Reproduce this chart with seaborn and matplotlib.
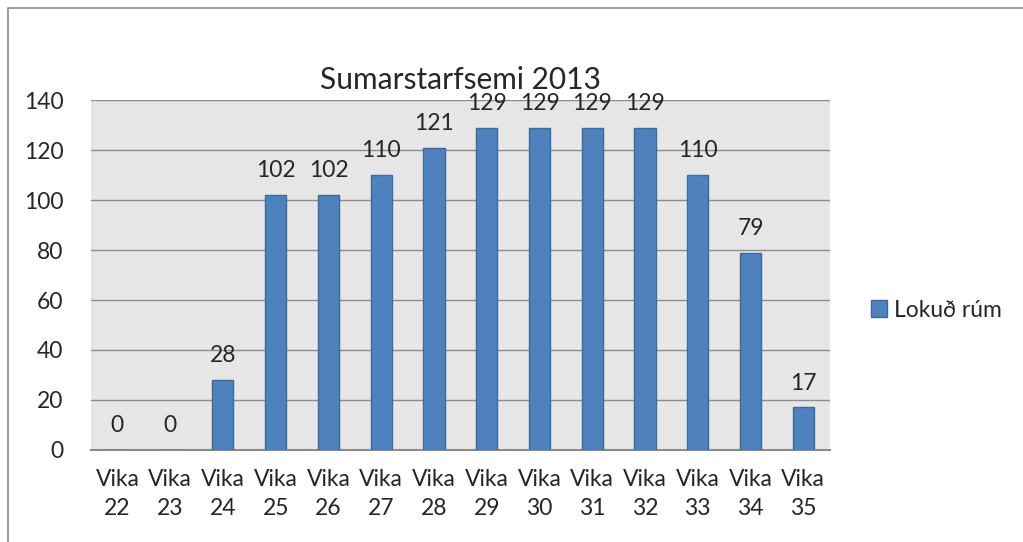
import matplotlib
matplotlib.use("Agg")
import pandas as pd
from matplotlib import pyplot as plt
from matplotlib.patches import Rectangle
import seaborn as sns

# Chart data
weeks = ["Vika\n22", "Vika\n23", "Vika\n24", "Vika\n25", "Vika\n26", "Vika\n27", "Vika\n28",
         "Vika\n29", "Vika\n30", "Vika\n31", "Vika\n32", "Vika\n33", "Vika\n34", "Vika\n35"]
closed_beds = [0, 0, 28, 102, 102, 110, 121, 129, 129, 129, 129, 110, 79, 17]
series_name = "Lokuð rúm"
chart_title = "Sumarstarfsemi 2013"

df = pd.DataFrame({"week": weeks, "value": closed_beds, "series": series_name})

sns.set_style("white")
plt.rcParams['font.family'] = ['Lato', 'DejaVu Sans']

fig = plt.figure(figsize=(10.23, 5.42), dpi=100)
ax = fig.add_axes([0.089, 0.170, 0.722, 0.645])

sns.barplot(data=df, x="week", y="value", hue="series", palette=["#4F81BD"], saturation=1,
            width=0.4, edgecolor="#3B6A9E", linewidth=1, ax=ax, zorder=3)

ax.set_facecolor("#E6E6E6")
ax.set_ylim(0, 140)
ax.set_yticks(range(0, 141, 20))
ax.set_xlim(-0.5, len(weeks) - 0.5)
ax.grid(axis="y", color="#8C8C8C", linewidth=1, zorder=0)
ax.set_axisbelow(True)
for side in ["top", "right", "left"]:
    ax.spines[side].set_visible(False)
ax.spines["bottom"].set_color("#8C8C8C")
ax.spines["bottom"].set_linewidth(1.5)
ax.set_xlabel("")
ax.set_ylabel("")
ax.tick_params(axis="y", labelsize=16.5, pad=20, length=0)
ax.tick_params(axis="x", labelsize=16.5, pad=13.5, length=0)
for lbl in ax.get_xticklabels():
    lbl.set_linespacing(1.5)

# value labels above the bars
for container in ax.containers:
    ax.bar_label(container, labels=[str(v) for v in closed_beds], padding=10, fontsize=16.5)

fig.text(0.45, 0.852, chart_title, ha="center", va="center", fontsize=21.5)

leg = ax.legend(loc="center left", bbox_to_anchor=(1.028, 0.40), frameon=False,
                fontsize=16.5, handlelength=0.7, handleheight=0.7, handletextpad=0.3)

# outer chart border (partly cropped in the original)
fig.patches.append(Rectangle((0.008, -0.05), 1.1, 1.035, transform=fig.transFigure,
                             fill=False, edgecolor="#8C8C8C", linewidth=1.2))

fig.savefig("out.png", dpi=100)
